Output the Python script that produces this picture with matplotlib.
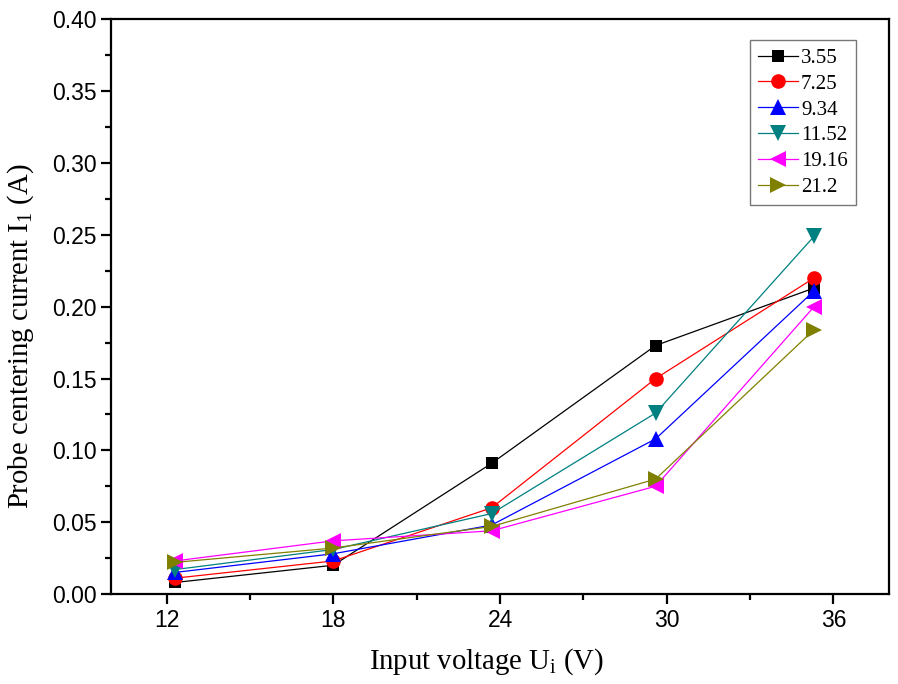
import matplotlib
matplotlib.use("Agg")
import matplotlib.pyplot as plt
from matplotlib.ticker import MultipleLocator

plt.rcParams['mathtext.fontset'] = 'custom'
plt.rcParams['mathtext.rm'] = 'Liberation Serif'
plt.rcParams['mathtext.it'] = 'Liberation Serif:italic'

voltage = [12.3, 18.0, 23.7, 29.6, 35.3]
labels = ["3.55", "7.25", "9.34", "11.52", "19.16", "21.2"]
s_355 = [0.008, 0.020, 0.091, 0.173, 0.213]
s_725 = [0.011, 0.023, 0.060, 0.150, 0.220]
s_934 = [0.015, 0.028, 0.048, 0.108, 0.211]
s_1152 = [0.017, 0.031, 0.056, 0.126, 0.249]
s_1916 = [0.023, 0.037, 0.044, 0.075, 0.200]
s_212 = [0.022, 0.032, 0.047, 0.080, 0.184]
series = [s_355, s_725, s_934, s_1152, s_1916, s_212]
colors = ['black', '#FF0000', '#0000FF', '#008080', '#FF00FF', '#808000']
markers = ['s', 'o', '^', 'v', '<', '>']
msizes = [9, 10.5, 11, 11, 11, 11]

fig = plt.figure(figsize=(8.98, 6.84), dpi=100)
ax = fig.add_axes([0.1236, 0.1316, 0.8664, 0.8399])

for ys, lab, c, m, ms in zip(series, labels, colors, markers, msizes):
    ax.plot(voltage, ys, color=c, marker=m, markersize=ms, linewidth=0.9,
            markeredgewidth=0, label=lab)

ax.set_xlim(10, 38)
ax.set_ylim(0, 0.40)
ax.xaxis.set_minor_locator(MultipleLocator(3))
ax.yaxis.set_minor_locator(MultipleLocator(0.025))
ax.set_xticks([12, 18, 24, 30, 36])
ax.set_yticks([i * 0.05 for i in range(9)])
ax.set_yticklabels([f"{i*0.05:.2f}" for i in range(9)])

for sp in ax.spines.values():
    sp.set_linewidth(1.6)
ax.tick_params(which='major', direction='out', length=7, width=1.6,
               labelsize=16.5, top=False, right=False)
ax.tick_params(which='minor', direction='out', length=4, width=1.6,
               top=False, right=False)
for t in ax.get_xticklabels() + ax.get_yticklabels():
    t.set_fontfamily('Liberation Sans')

ax.set_xlabel(r"Input voltage U$\mathregular{_i}$ (V)", fontfamily='Liberation Serif',
              fontsize=20.7)
ax.set_ylabel(r"Probe centering current I$\mathregular{_1}$ (A)", fontfamily='Liberation Serif',
              fontsize=20.7)
ax.xaxis.set_label_coords(0.483, -0.092)
ax.yaxis.set_label_coords(-0.096, 0.449)

leg = ax.legend(loc='upper right', bbox_to_anchor=(0.9576, 0.9643),
                prop={'family': 'Liberation Serif', 'size': 15},
                frameon=True, fancybox=False, edgecolor='#555555',
                handlelength=1.9, handletextpad=0.15, labelspacing=0.3,
                borderpad=0.4, borderaxespad=0)
leg.get_frame().set_linewidth(1.0)

fig.savefig("out.png", dpi=100)
